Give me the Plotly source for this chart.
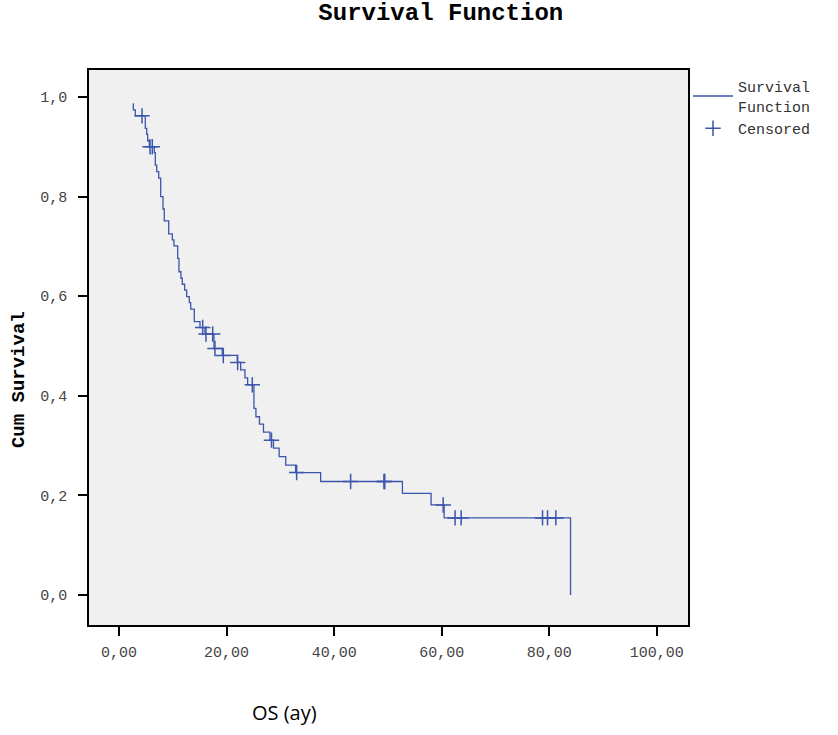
import plotly.graph_objects as go

# Kaplan-Meier step curve: times at which the curve drops and survival after the drop
event_times = [2.55, 2.66, 3.03, 4.89, 5.15, 5.33, 5.63, 6.56, 6.75, 7.01, 7.38, 7.75,
               8.18, 8.42, 9.24, 9.91, 10.22, 10.91, 11.15, 11.52, 11.77, 12.21, 12.58,
               13.07, 13.33, 14.00, 15.06, 15.99, 17.66, 19.20, 21.99, 22.62, 23.42,
               23.92, 25.09, 25.46, 26.12, 26.86, 28.07, 28.72, 29.78, 31.00, 32.84,
               37.49, 52.70, 58.03, 60.45, 83.96]
survival = [0.986, 0.974, 0.962, 0.937, 0.925, 0.912, 0.900, 0.888, 0.863, 0.850, 0.837,
            0.800, 0.775, 0.751, 0.725, 0.713, 0.701, 0.676, 0.649, 0.636, 0.624, 0.612,
            0.599, 0.587, 0.574, 0.549, 0.537, 0.524, 0.495, 0.481, 0.467, 0.452, 0.436,
            0.422, 0.375, 0.358, 0.343, 0.327, 0.311, 0.295, 0.278, 0.261, 0.246, 0.228,
            0.204, 0.181, 0.155, 0.0]

# Censored observations
censor_times = [4.28, 5.76, 6.19, 15.56, 16.17, 17.42, 17.84, 19.39, 22.06, 24.78, 28.35,
                33.03, 43.07, 49.26, 49.41, 60.28, 62.49, 63.62, 78.75, 79.68, 81.23]
censor_surv = [0.962, 0.900, 0.900, 0.537, 0.524, 0.524, 0.495, 0.481, 0.467, 0.422, 0.311,
               0.246, 0.228, 0.228, 0.228, 0.181, 0.155, 0.155, 0.155, 0.155, 0.155]

x_ticks = [0, 20, 40, 60, 80, 100]
y_ticks = [0, 0.2, 0.4, 0.6, 0.8, 1.0]

LINE = "#3b56ac"
MONO = "Liberation Mono"

fig = go.Figure()
fig.add_trace(go.Scatter(
    x=event_times, y=survival, mode="lines", line_shape="hv",
    line=dict(color=LINE, width=1.3), name="Survival<br>Function",
))
fig.add_trace(go.Scatter(
    x=censor_times, y=censor_surv, mode="markers", name="Censored",
    marker=dict(symbol="cross-thin", size=11, line=dict(color=LINE, width=1.5), color=LINE),
))

fig.update_layout(
    width=838, height=735,
    margin=dict(l=89, r=150, t=70, b=110),
    paper_bgcolor="white", plot_bgcolor="#f0f0f0",
    separators=",.",
    title=dict(text="Survival Function", font=dict(family=MONO, size=24, color="black", weight="bold"),
               x=0.526, xanchor="center", xref="container", y=1 - 12 / 735, yanchor="middle", yref="container"),
    showlegend=True,
    legend=dict(x=1.0, y=1.0, xanchor="left", yanchor="top", bgcolor="rgba(0,0,0,0)",
                font=dict(family=MONO, size=15, color="#333"), tracegroupgap=6, itemwidth=40),
    xaxis=dict(range=[-5.58, 105.8], tickvals=x_ticks, tickformat=".2f", ticks="outside", ticklen=9,
               tickwidth=2, tickcolor="black", showline=True, linecolor="black", linewidth=1.5,
               mirror=True, showgrid=False, zeroline=False, ticklabelstandoff=3,
               tickfont=dict(family=MONO, size=15, color="#444")),
    yaxis=dict(range=[-0.06, 1.054], tickvals=y_ticks, tickformat=".1f", ticks="outside", ticklen=9,
               tickwidth=2, tickcolor="black", showline=True, linecolor="black", linewidth=1.5,
               mirror=True, showgrid=False, zeroline=False, ticklabelstandoff=8,
               tickfont=dict(family=MONO, size=15, color="#444")),
    annotations=[
        dict(text="OS (ay)", x=0.327, xref="paper", y=-0.157, yref="paper",
             xanchor="center", yanchor="middle", showarrow=False,
             font=dict(family="Open Sans", size=20, color="black")),
        dict(text="Cum Survival", x=-0.1169, xref="paper", y=0.443, yref="paper",
             xanchor="center", yanchor="middle", showarrow=False, textangle=-90,
             font=dict(family=MONO, size=19, color="black", weight="bold")),
    ],
)

fig.write_html("out.html")
